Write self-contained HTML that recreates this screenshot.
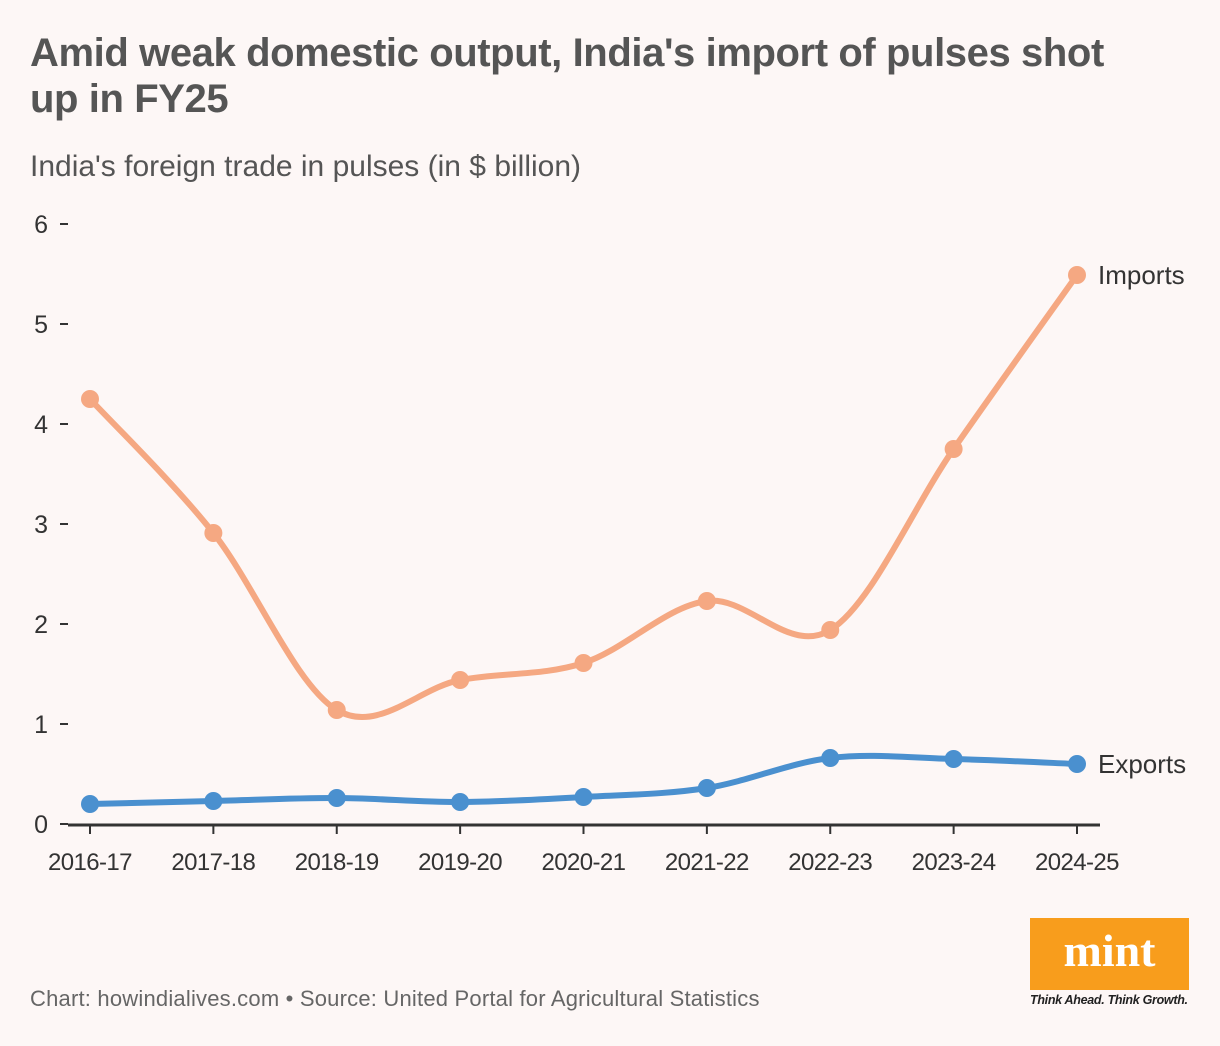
<!DOCTYPE html>
<html><head><meta charset="utf-8"><style>
html,body{margin:0;padding:0;background:#fdf7f6;}
body{width:1220px;height:1046px;position:relative;overflow:hidden;font-family:"Liberation Sans",sans-serif;}
h1{position:absolute;left:30px;top:30px;margin:0;width:1125px;font-size:40px;line-height:46px;font-weight:bold;color:#555;letter-spacing:-0.4px;}
.sub{position:absolute;left:30px;top:150px;font-size:30px;color:#555;letter-spacing:0px;}
.src{position:absolute;left:30px;top:986px;font-size:22px;color:#666;letter-spacing:0.2px;}
.logo{position:absolute;left:1030px;top:918px;width:159px;height:72px;background:#f89d1c;color:#fff;font-family:"Liberation Serif",serif;font-weight:bold;font-size:46px;text-align:center;line-height:66px;}
.tag{position:absolute;left:1030px;top:993px;font-size:12.5px;font-style:italic;font-weight:bold;color:#222;letter-spacing:-0.3px;}
svg{position:absolute;left:0;top:0;}
</style></head><body>
<h1>Amid weak domestic output, India's import of pulses shot up in FY25</h1>
<div class="sub">India's foreign trade in pulses (in $ billion)</div>
<svg id="chart" width="1220" height="1046"></svg>
<div class="src">Chart: howindialives.com • Source: United Portal for Agricultural Statistics</div>
<div class="logo">mint</div>
<div class="tag">Think Ahead. Think Growth.</div>
<script>
const categories=["2016-17","2017-18","2018-19","2019-20","2020-21","2021-22","2022-23","2023-24","2024-25"];
const imports=[4.25,2.91,1.14,1.44,1.61,2.23,1.94,3.75,5.49];
const exports=[0.20,0.23,0.26,0.22,0.27,0.36,0.66,0.65,0.60];
const yTicks=[0,1,2,3,4,5,6];
const svg=document.getElementById('chart');
const NS='http://www.w3.org/2000/svg';
const x=i=>90+i*(1077-90)/(categories.length-1);
const y=v=>824-v*100;
function mk(t,a){const e=document.createElementNS(NS,t);for(const k in a)e.setAttribute(k,a[k]);svg.appendChild(e);return e;}
yTicks.forEach(v=>{
  const t=mk('text',{x:48,y:y(v)+9,'text-anchor':'end','font-size':25,fill:'#333','font-family':'Liberation Sans, sans-serif'});
  t.textContent=v;
  
  
  const l=mk('line',{x1:60,x2:68,y1:y(v),y2:y(v),stroke:'#333','stroke-width':2});
  
  
});
const ax=mk('line',{x1:68,x2:1100,y1:825,y2:825,stroke:'#333','stroke-width':3});


categories.forEach((c,i)=>{
  const l=mk('line',{x1:x(i),x2:x(i),y1:825,y2:834,stroke:'#333','stroke-width':2});
  
  
  const t=mk('text',{x:x(i),y:870,'text-anchor':'middle','font-size':24,fill:'#333','font-family':'Liberation Sans, sans-serif','letter-spacing':'-0.6'});
  t.textContent=c;
  
  
});
function path(vals){
  const p=vals.map((v,i)=>[x(i),y(v)]);
  let d='M'+p[0][0]+','+p[0][1];
  for(let i=0;i<p.length-1;i++){
    const p0=p[Math.max(0,i-1)],p1=p[i],p2=p[i+1],p3=p[Math.min(p.length-1,i+2)];
    const c1=[p1[0]+(p2[0]-p0[0])/6,p1[1]+(p2[1]-p0[1])/6];
    const c2=[p2[0]-(p3[0]-p1[0])/6,p2[1]-(p3[1]-p1[1])/6];
    d+=` C${c1[0]},${c1[1]} ${c2[0]},${c2[1]} ${p2[0]},${p2[1]}`;
  }
  return d;
}
function series(vals,color,name,label){
  const pa=mk('path',{d:path(vals),fill:'none',stroke:color,'stroke-width':6,'stroke-linecap':'round'});
  
  
  vals.forEach((v,i)=>{
    const c=mk('circle',{cx:x(i),cy:y(v),r:9,fill:color});
    
    
  });
  const t=mk('text',{x:x(vals.length-1)+21,y:y(vals[vals.length-1])+9,'font-size':26,fill:'#333','font-family':'Liberation Sans, sans-serif'});
  t.textContent=label;
  
  
}
series(imports,'#f5a882','imports','Imports');
series(exports,'#4a90cf','exports','Exports');
</script>
</body></html>
